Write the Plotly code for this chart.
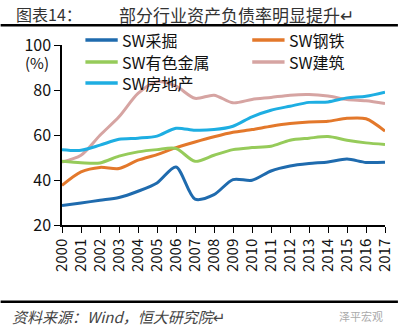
import plotly.graph_objects as go

years = list(range(2000, 2018))
tick_labels = [str(y) for y in years]

caijue = [28.7, 29.8, 31.0, 32.2, 35.0, 38.7, 45.8, 31.5, 33.5, 40.2, 39.9, 44.0, 46.2, 47.3, 48.0, 49.3, 47.8, 47.9]
gangtie = [37.6, 43.6, 45.6, 45.1, 48.8, 51.3, 54.4, 56.9, 59.2, 61.2, 62.4, 63.9, 65.1, 65.8, 66.1, 67.4, 67.2, 61.7]
youse = [48.3, 47.7, 47.6, 50.6, 52.5, 53.5, 54.0, 48.3, 51.0, 53.5, 54.4, 55.0, 57.7, 58.6, 59.3, 57.7, 56.5, 55.8]
jianzhu = [48.0, 51.0, 59.9, 68.1, 78.5, 83.7, 81.7, 76.3, 77.7, 74.3, 75.8, 76.7, 77.7, 78.0, 77.3, 75.8, 75.2, 74.0]
fangdichan = [53.5, 53.2, 55.5, 58.1, 58.6, 59.5, 63.0, 62.1, 62.4, 63.9, 68.1, 71.0, 72.8, 74.5, 74.7, 76.5, 77.2, 79.0]

series_names = ["SW采掘", "SW钢铁", "SW有色金属", "SW建筑", "SW房地产"]
series_vals = [caijue, gangtie, youse, jianzhu, fangdichan]
colors = ["#1F6BAE", "#E3782B", "#96CB5A", "#D6A4A2", "#1EAEE2"]

FONT = "Noto Sans CJK SC, DejaVu Sans, sans-serif"

fig = go.Figure()
order = [3, 4, 1, 2, 0]
for i in order:
    fig.add_trace(go.Scatter(
        x=years, y=series_vals[i], mode="lines", name=series_names[i],
        line=dict(color=colors[i], width=3, shape="spline", smoothing=0.8),
        showlegend=False, hoverinfo="skip"))

# manual legend (2 columns x 3 rows)
leg_pos = [(0.0725, 1.028), (0.589, 1.028), (0.0725, 0.906), (0.589, 0.906), (0.0725, 0.789)]
for (lx, ly), name, c in zip(leg_pos, series_names, colors):
    fig.add_shape(type="line", xref="paper", yref="paper", x0=lx, x1=lx + 0.1, y0=ly, y1=ly,
                  line=dict(color=c, width=3.5))
    fig.add_annotation(xref="paper", yref="paper", x=lx + 0.107, y=ly, text=name, showarrow=False,
                       xanchor="left", yanchor="middle", font=dict(size=16, color="#111111", family=FONT))

# (%) label
fig.add_annotation(xref="paper", yref="paper", x=-0.078, y=0.905, text="(%)", showarrow=False,
                   xanchor="center", yanchor="middle", font=dict(size=15, color="#111111", family=FONT))

# Title
fig.add_annotation(xref="paper", yref="paper", x=-0.148, y=1.172, text="图表14：", showarrow=False,
                   xanchor="left", yanchor="middle", font=dict(size=16, color="#333333", family=FONT))
fig.add_annotation(xref="paper", yref="paper", x=0.169, y=1.172, text="部分行业资产负债率明显提升↵", showarrow=False,
                   xanchor="left", yanchor="middle", font=dict(size=17, color="#333333", family=FONT))
fig.add_shape(type="line", xref="paper", yref="paper", x0=-0.19, x1=1.04, y0=1.1095, y1=1.1095,
              line=dict(color="#000000", width=2.5))

# bottom line & source
fig.add_shape(type="line", xref="paper", yref="paper", x0=-0.19, x1=1.04, y0=-0.427, y1=-0.427,
              line=dict(color="#000000", width=2.5))
fig.add_annotation(xref="paper", yref="paper", x=-0.16, y=-0.508, text="<i>资料来源：Wind，恒大研究院↵</i>",
                   showarrow=False, xanchor="left", yanchor="middle",
                   font=dict(size=15, color="#444444", family=FONT))
fig.add_annotation(xref="paper", yref="paper", x=1.0, y=-0.508, text="泽平宏观",
                   showarrow=False, xanchor="right", yanchor="middle",
                   font=dict(size=11, color="#aaaaaa", family=FONT))

fig.update_layout(
    width=406, height=330,
    margin=dict(l=62, r=13, t=45, b=105),
    paper_bgcolor="white", plot_bgcolor="white",
    font=dict(family=FONT, size=16, color="#111111"),
    xaxis=dict(range=[2000, 2017], tickmode="array", tickvals=years, ticktext=tick_labels,
               tickangle=-90, showgrid=False, zeroline=False, showline=True, linecolor="#000000",
               linewidth=1.5, ticks="outside", ticklen=6, tickcolor="#000000",
               tickfont=dict(size=15, family=FONT, color="#111111")),
    yaxis=dict(range=[20, 100], tickvals=[20, 40, 60, 80, 100], showgrid=False, zeroline=False,
               showline=True, linecolor="#000000", linewidth=1.5, ticks="outside", ticklen=6,
               tickcolor="#000000", tickfont=dict(size=16, family=FONT, color="#111111")),
)

fig.write_html("out.html")
